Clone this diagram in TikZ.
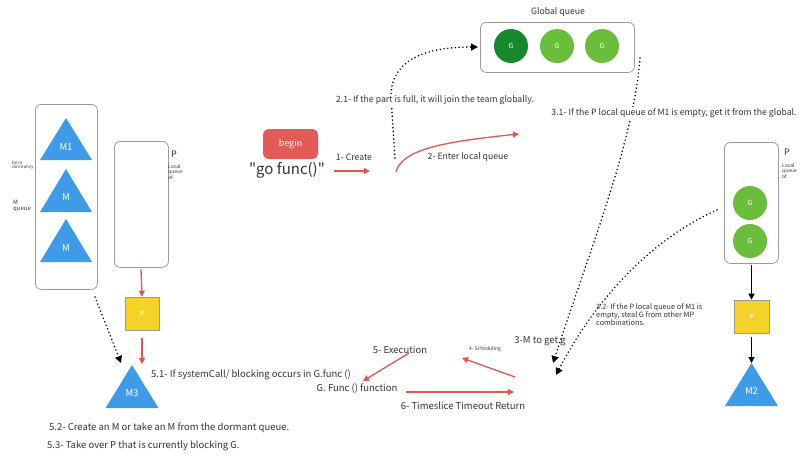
\documentclass[tikz,border=0pt]{standalone}
\usepackage{fontspec}
\setmainfont{Noto Sans CJK SC}
\newfontfamily\plainfont{Noto Sans CJK SC}
\usetikzlibrary{arrows.meta,shapes.geometric}
\definecolor{redc}{HTML}{E8554E}
\definecolor{beginc}{HTML}{E25B57}
\definecolor{bluec}{HTML}{3F9BE8}
\definecolor{yelc}{HTML}{F4D22A}
\definecolor{greenc}{HTML}{6BBE3C}
\definecolor{dgreenc}{HTML}{17882B}
\definecolor{txt}{HTML}{333333}
\definecolor{boxline}{HTML}{9A9A9A}
\newcommand{\fs}[1]{\fontsize{#1}{#1}\selectfont}
\begin{document}
\begin{tikzpicture}[x=1pt,y=-1pt,text=txt,
  qbox/.style={draw=boxline,line width=0.8pt,rounded corners=6pt,inner sep=0pt,anchor=north west},
  gnode/.style={circle,fill=greenc,inner sep=0pt,minimum size=34pt,text=white,font=\fs{7}},
  pbox/.style={draw=gray!80,line width=0.6pt,fill=yelc,inner sep=0pt,minimum width=34pt,minimum height=33pt,text=white!85!yelc,font=\fs{7}},
  trifill/.style={fill=bluec},
  trilab/.style={text=white,font=\fs{9.5}},
  lab/.style={font=\fs{8.7},inner sep=1pt},
  biglab/.style={font=\fs{9.5},inner sep=1pt},
  tiny/.style={font=\fs{5},align=left,inner sep=0pt,anchor=north west},
  redarrow/.style={draw=redc,line width=1.3pt,-{Triangle[length=6pt,width=6pt]}},
  blkarrow/.style={draw=black,line width=1.3pt,-{Triangle[length=6pt,width=6pt]}},
  dotline/.style={draw=black,line width=1.7pt,line cap=round,dash pattern=on 0pt off 3.8pt,-{Triangle[length=7pt,width=7pt]}}]
\useasboundingbox[fill=white] (0,0) rectangle (800,456);

% ---------- left: M queue ----------
\node[qbox,minimum width=62pt,minimum height=185pt] (mq) at (35,104) {};
\fill[trifill] (40,160) -- (66,118) -- (92,160) -- cycle;
\node[trilab] (m1) at (66,147) {M1};
\fill[trifill] (40,212) -- (66,169) -- (92,212) -- cycle;
\node[trilab] (m2a) at (66,197) {M};
\fill[trifill] (40,262) -- (66,219) -- (92,262) -- cycle;
\node[trilab] (m2b) at (66,248) {M};
\node[font=\fs{4.5},align=left,inner sep=0pt,anchor=west] (dorm) at (12,165) {be in\\dormancy};
\node[font=\fs{6},align=left,inner sep=0pt,anchor=west] (mqlab) at (13,206) {M\\queue};

% ---------- left: P local queue ----------
\node[qbox,minimum width=54pt,minimum height=126pt] (lp) at (114,141) {};
\node[font=\fs{9},inner sep=0pt] (lpP) at (174,154) {P};
\node[tiny] (lpl) at (168,164) {Local\\queue\\of};
\node[pbox] (py) at (142,313.5) {P};
\fill[trifill] (105.5,408) -- (132,365) -- (158.5,408) -- cycle;
\node[trilab] (m3) at (132,393) {M3};
\coordinate (m3top) at (142,364);
\draw[redarrow] (141,269) -- (py.north);
\draw[redarrow] (py.south) ++(0,8) -- (m3top);
\coordinate (dq) at (95,297);
\coordinate (dqend) at (121,363);
\draw[dotline] (dq) -- (dqend);
\node[biglab,anchor=west] (t51) at (150,375) {5.1- If systemCall/ blocking occurs in G.func ()};
\node[biglab,anchor=west] (t52) at (48,428) {5.2- Create an M or take an M from the dormant queue.};
\node[biglab,anchor=west] (t53) at (46,446) {5.3- Take over P that is currently blocking G.};

% ---------- begin / go func ----------
\node[fill=beginc,rounded corners=6pt,minimum width=55pt,minimum height=30pt,inner sep=0pt,text=white,font=\fs{9}] (begin) at (290.5,144) {begin};
\node[font=\plainfont\fs{15},inner sep=0pt] (gofunc) at (287,170) {"go func()"};
\coordinate (c1s) at (334,171);
\coordinate (c1e) at (370,171);
\draw[redarrow] (c1s) -- (c1e);
\node[lab] (t1) at (354,157) {1- Create};
\coordinate (c2s) at (396,172);
\coordinate (c2e) at (519,134);
\draw[redarrow] (c2s) .. controls (402,150) and (440,142) .. (c2e);
\node[lab] (t2) at (468,157) {2- Enter local queue};

% ---------- global queue ----------
\node[qbox,minimum width=154pt,minimum height=50pt] (gq) at (480,22) {};
\node[lab] (gqlab) at (558,12) {Global queue};
\node[gnode,fill=dgreenc] (g1) at (511,46) {G};
\node[gnode] (g2) at (557,46) {G};
\node[gnode] (g3) at (602,46) {G};
\coordinate (c21s) at (395,158);
\coordinate (c21e) at (478,47);
\draw[dotline] (c21s) -- (391,98) .. controls (390,60) and (425,47) .. (c21e);
\node[lab,fill=white] (t21) at (435,100) {2.1- If the part is full, it will join the team globally.};
\coordinate (c31s) at (640,58);
\coordinate (c31e) at (553,363);
\draw[dotline] (c31s) .. controls (634,140) and (590,250) .. (c31e);
\node[lab,fill=white] (t31) at (674,113) {3.1- If the P local queue of M1 is empty, get it from the global.};

% ---------- right: P with M2 ----------
\node[qbox,minimum width=54pt,minimum height=121pt] (rp) at (724,142) {};
\node[font=\fs{9},inner sep=0pt] (rpP) at (787,152) {P};
\node[tiny] (rpl) at (782,163) {Local\\queue\\of};
\node[gnode] (rg1) at (750,203) {G};
\node[gnode] (rg2) at (750,241) {G};
\node[pbox,minimum width=35pt] (ry) at (751.5,316.5) {P};
\fill[trifill] (725,406) -- (751.5,363) -- (778,406) -- cycle;
\coordinate (m2apex) at (751.5,363);
\node[trilab] (m2) at (751.5,391) {M2};
\draw[blkarrow] (751.5,265) -- (ry.north);
\draw[blkarrow] (ry.south) ++(0,4) -- (m2apex);
\coordinate (c32s) at (717,210);
\coordinate (c32e) at (556,375);
\draw[dotline] (c32s) .. controls (660,235) and (600,290) .. (c32e);
\node[font=\fs{7.3},align=left,inner sep=0pt,anchor=north west] (t32) at (596,303) {3.2- If the P local queue of M1 is\\[-0.5pt]empty, steal G from other MP\\[-0.5pt]combinations.};

% ---------- scheduling cycle ----------
\node[biglab] (t3) at (540,341) {3-M to get g};
\node[font=\fs{5},inner sep=0pt] (t4) at (485,349) {4- Scheduling};
\node[biglab] (t5) at (400,350) {5- Execution};
\node[biglab] (gf) at (357,389) {G. Func () function};
\node[biglab] (t6) at (463,406) {6- Timeslice Timeout Return};
\coordinate (a4s) at (515,377);
\coordinate (a4e) at (462,358);
\draw[redarrow] (a4s) -- (a4e);
\coordinate (a5s) at (409,353);
\coordinate (a5e) at (363,381);
\draw[redarrow] (a5s) -- (a5e);
\coordinate (a6s) at (406,392);
\coordinate (a6e) at (514,392);
\draw[redarrow] (a6s) -- (a6e);
\end{tikzpicture}
\end{document}
